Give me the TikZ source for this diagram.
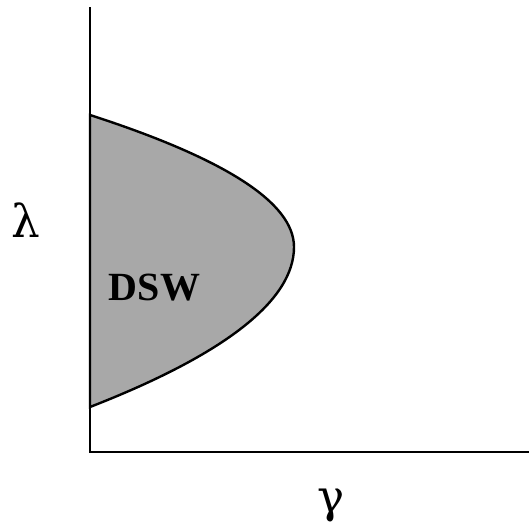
\documentclass[tikz,border=0pt]{standalone}
\usepackage{fontspec}
\setmainfont{Liberation Serif}
\newfontfamily\greekfont{DejaVu Serif}
\usepackage{xcolor}
\usetikzlibrary{positioning}
\definecolor{dswgray}{RGB}{168,168,168}
\tikzset{
    axis/.style={line width=2pt, line cap=rect},
    region/.style={fill=dswgray, draw=black, line width=1.8pt},
    greeklabel/.style={font=\greekfont\fontsize{34}{34}\selectfont, inner sep=0pt},
    regionlabel/.style={font=\fontsize{30}{30}\selectfont\bfseries, inner sep=0pt}
}

\begin{document}
\begin{tikzpicture}[x=0.75pt, y=-0.75pt]
    \useasboundingbox (0,0) rectangle (529,527);
    \coordinate (orig) at (90,452);
    \coordinate (ytop) at (90,8);
    \coordinate (xend) at (529,452);
    \coordinate (upper) at (90,115);
    \coordinate (tip) at (294,247);
    \coordinate (lower) at (90,407);

    \draw [region] (upper) .. controls (226,159) and (294,203) .. (tip)
        .. controls (294,300) and (226,354) .. (lower) -- cycle;
    \draw [axis] (ytop) -- (orig) -- (xend);

    \node (lam) [greeklabel] at (25.5,220) {λ};
    \node (gam) [greeklabel] at (331,506) {γ};
    \node (dsw) [regionlabel] at (154.5,288) {DSW};
\end{tikzpicture}
\end{document}
